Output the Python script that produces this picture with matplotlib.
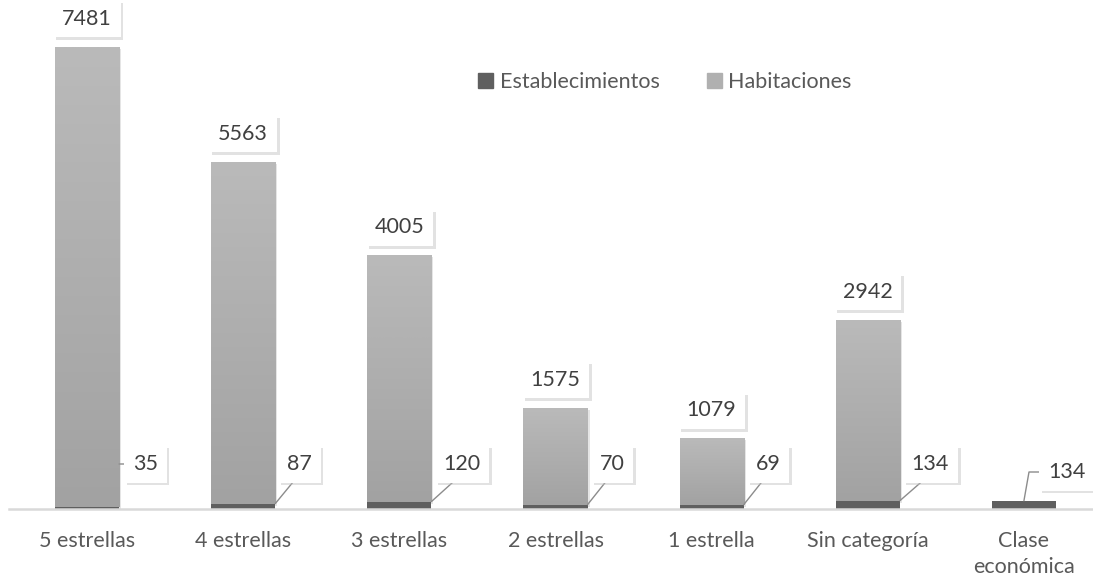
import numpy as np
import matplotlib
matplotlib.use('Agg')
from matplotlib import pyplot as plt
from matplotlib import patheffects as pe
from matplotlib.patches import Patch
from matplotlib.colors import LinearSegmentedColormap

categorias = ['5 estrellas', '4 estrellas', '3 estrellas', '2 estrellas',
              '1 estrella', 'Sin categoría', 'Clase\neconómica']
establecimientos = [35, 87, 120, 70, 69, 134, 134]
habitaciones = [7481, 5563, 4005, 1575, 1079, 2942, 0]

plt.rcParams['font.family'] = ['Lato', 'DejaVu Sans']
txt_color = '#404040'

fig = plt.figure(figsize=(10.93, 5.8), dpi=100)
# axes in pixel terms: baseline at y=509, slots of ~156 px
ax = fig.add_axes([9 / 1093, 71 / 580, 1093 / 1093, 509 / 580])
ymax = 7481 * 509 / 460
ax.set_ylim(0, ymax)
ax.set_xlim(-0.5, 6.5)
px = 509 / ymax  # pixels per unit

x = np.arange(len(categorias))
w = 0.41
shadow = [pe.withSimplePatchShadow(offset=(1.5, -1.5), shadow_rgbFace='0.8', alpha=0.5)]

b1 = ax.bar(x, establecimientos, w, color='#5f5f5f', zorder=3)
b2 = ax.bar(x, habitaciones, w, bottom=establecimientos, color='#b0b0b0', zorder=2)
for r in b2:
    r.set_path_effects(shadow)

# vertical gradient on the Habitaciones bars
cmap = LinearSegmentedColormap.from_list('g', ['#a2a2a2', '#bababa'])
grad = np.linspace(0, 1, 256).reshape(-1, 1)
for r in b2:
    if r.get_height() <= 0:
        continue
    im = ax.imshow(grad, cmap=cmap, origin='lower', aspect='auto', zorder=2.5,
                   extent=[r.get_x(), r.get_x() + r.get_width(),
                           r.get_y(), r.get_y() + r.get_height()])
    im.set_clip_path(r)

box = dict(boxstyle='square,pad=0.4', fc='white', ec='none')
box_shadow = [pe.withSimplePatchShadow(offset=(2, -2), shadow_rgbFace='0.75', alpha=0.45)]
fs = 15.5

# Habitaciones labels on top
for i, (e, h) in enumerate(zip(establecimientos, habitaciones)):
    if h <= 0:
        continue
    t = ax.annotate(str(h), (x[i], e + h), xytext=(0, 28), textcoords='offset pixels',
                    ha='center', va='center', fontsize=fs, color=txt_color,
                    bbox=box, zorder=6, annotation_clip=False)
    t.get_bbox_patch().set_path_effects(box_shadow)

# Establecimientos labels with leader lines
lab_y = 45 / px
for i, e in enumerate(establecimientos):
    right = x[i] + w / 2
    if i == 0:
        xy = (right, lab_y)
        off = (14, 0)
        ap = dict(arrowstyle='-', color='#8c8c8c', lw=1, relpos=(0, 0.5),
                  shrinkA=0, shrinkB=0)
    elif i == len(establecimientos) - 1:
        xy = (x[i], e)
        off = (24, 37 - e * px)
        ap = dict(arrowstyle='-', color='#8c8c8c', lw=1, relpos=(0, 0.5),
                  shrinkA=0, shrinkB=0, connectionstyle='angle,angleA=180,angleB=80,rad=0')
    else:
        xy = (right, e)
        off = (12, 45 - e * px)
        ap = dict(arrowstyle='-', color='#8c8c8c', lw=1, relpos=(0.5, 0),
                  shrinkA=0, shrinkB=0)
    t = ax.annotate(str(e), xy, xytext=off, textcoords='offset pixels',
                    ha='left', va='center', fontsize=fs, color=txt_color,
                    bbox=box, arrowprops=ap, zorder=6, annotation_clip=False)
    t.get_bbox_patch().set_path_effects(box_shadow)

ax.set_xticks(x)
ax.set_xticklabels(categorias, fontsize=15.5, color='#595959', linespacing=1.35)
ax.tick_params(axis='x', length=0, pad=16)
ax.set_yticks([])
for s in ['left', 'right', 'top']:
    ax.spines[s].set_visible(False)
ax.spines['bottom'].set_color('#d9d9d9')
ax.spines['bottom'].set_linewidth(1.8)
ax.spines['bottom'].set_zorder(4)

handles = [Patch(color='#5f5f5f', label='Establecimientos'),
           Patch(color='#b0b0b0', label='Habitaciones')]
leg = fig.legend(handles=handles, loc='center', bbox_to_anchor=(665 / 1093, 1 - 82 / 580),
                 ncol=2, frameon=False, fontsize=15.5, handlelength=0.7, handleheight=0.7,
                 handletextpad=0.3, columnspacing=2.2)
for t in leg.get_texts():
    t.set_color('#595959')

fig.savefig('out.png', dpi=100)
